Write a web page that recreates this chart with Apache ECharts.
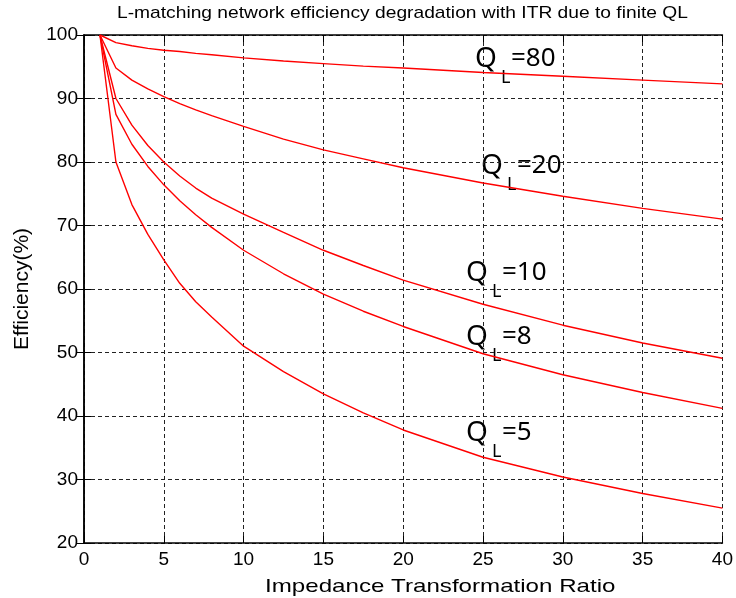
<!DOCTYPE html>
<html>
<head>
<meta charset="utf-8">
<script src="https://cdn.jsdelivr.net/npm/echarts@6/dist/echarts.min.js"></script>
<style>
  html, body { margin: 0; padding: 0; background: #fff; }
  #main { width: 736px; height: 598px; }
</style>
</head>
<body>
<div id="main"></div>
<script>
// impedance transformation ratio (x) shared by all curves
const itr = [1, 2, 3, 4, 5, 6, 7, 8, 10, 12.5, 15, 17.5, 20, 25, 30, 35, 40]

// efficiency in %
const effQ80 = [100, 98.8, 98.3, 97.9, 97.6, 97.4, 97.1, 96.9, 96.4, 95.9, 95.5, 95.1, 94.8, 94.1, 93.5, 92.9, 92.3]
const effQ20 = [100, 94.8, 92.9, 91.5, 90.3, 89.2, 88.2, 87.3, 85.6, 83.6, 81.9, 80.5, 79.1, 76.7, 74.6, 72.7, 71.0]
const effQ10 = [100, 90.0, 85.8, 82.6, 80.0, 77.8, 75.9, 74.3, 71.8, 68.9, 66.1, 63.7, 61.4, 57.6, 54.3, 51.5, 49.1]
const effQ8 = [100, 87.5, 82.8, 79.3, 76.4, 73.9, 71.7, 69.7, 66.1, 62.4, 59.2, 56.5, 54.1, 49.8, 46.5, 43.7, 41.2]
const effQ5 = [100, 80.0, 73.3, 68.6, 64.6, 60.9, 58.0, 55.6, 51.0, 47.0, 43.5, 40.5, 37.8, 33.5, 30.4, 27.8, 25.5]

const qlValues = ['80', '20', '10', '8', '5']
const allEff = [effQ80, effQ20, effQ10, effQ8, effQ5]

const FONT = '"Liberation Sans", Arial, sans-serif'
const QFONT = '"Noto Sans", sans-serif'

// where the Q_L labels sit (left / top of the "Q")
const labelSpots = [[475, 46], [481, 153], [466, 260], [466, 324], [466, 420]]

function qLabel(num, spot) {
  return {
    type: 'group',
    x: spot[0],
    y: spot[1],
    children: [
      { type: 'text', x: 0, y: -1, style: { text: 'Q', font: '28px ' + QFONT, fill: '#000' } },
      { type: 'text', x: 26, y: 23, style: { text: 'L', font: '18px ' + QFONT, fill: '#000' } },
      { type: 'text', x: 36, y: 0, style: { text: '=' + num, font: '26px ' + QFONT, fill: '#000' } }
    ]
  }
}

const gridLine = { show: true, lineStyle: { color: '#222', type: [4, 3], width: 1 } }
const boxTick = { show: true, inside: true, length: 7, lineStyle: { color: '#000' } }

const option = {
  animation: false,
  backgroundColor: '#fff',
  grid: { left: 84, right: 11, top: 35, bottom: 55 },
  xAxis: [
    {
      type: 'value', min: 0, max: 40, interval: 5,
      axisLine: { lineStyle: { color: '#000', width: 1.5 } },
      axisTick: boxTick,
      axisLabel: { fontFamily: FONT, fontSize: 19, color: '#000', margin: 7 },
      splitLine: gridLine
    },
    {
      type: 'value', position: 'top', min: 0, max: 40, interval: 5,
      axisLine: { show: true, lineStyle: { color: '#000', width: 1.5 } },
      axisTick: boxTick,
      axisLabel: { show: false },
      splitLine: { show: false }
    }
  ],
  yAxis: [
    {
      type: 'value', min: 20, max: 100, interval: 10,
      name: 'Efficiency(%)', nameLocation: 'middle', nameGap: 51,
      nameTextStyle: { fontFamily: FONT, fontSize: 21, color: '#000' },
      axisLine: { show: true, lineStyle: { color: '#000', width: 1.5 } },
      axisTick: boxTick,
      axisLabel: { fontFamily: FONT, fontSize: 19, color: '#000', margin: 6 },
      splitLine: gridLine
    },
    {
      type: 'value', position: 'right', min: 20, max: 100, interval: 10,
      axisLine: { show: true, lineStyle: { color: '#000', width: 1.5 } },
      axisTick: boxTick,
      axisLabel: { show: false },
      splitLine: { show: false }
    }
  ],
  series: allEff.map((eff, i) => ({
    name: 'QL=' + qlValues[i],
    type: 'line',
    data: itr.map((x, k) => [x, eff[k]]),
    showSymbol: false,
    lineStyle: { color: '#ff0000', width: 1.4 }
  })),
  graphic: [
    {
      // title, a bit wider than plain Arial like the original
      type: 'text', x: 117, y: 5, scaleX: 1.13,
      style: { text: 'L-matching network efficiency degradation with ITR due to finite QL', font: '17px ' + FONT, fill: '#000' }
    },
    {
      type: 'text', x: 265, y: 577, scaleX: 1.27,
      style: { text: 'Impedance Transformation Ratio', font: '19px ' + FONT, fill: '#000' }
    }
  ].concat(qlValues.map((q, i) => qLabel(q, labelSpots[i])))
}

const chart = echarts.init(document.getElementById('main'))
chart.setOption(option)
</script>
</body>
</html>
